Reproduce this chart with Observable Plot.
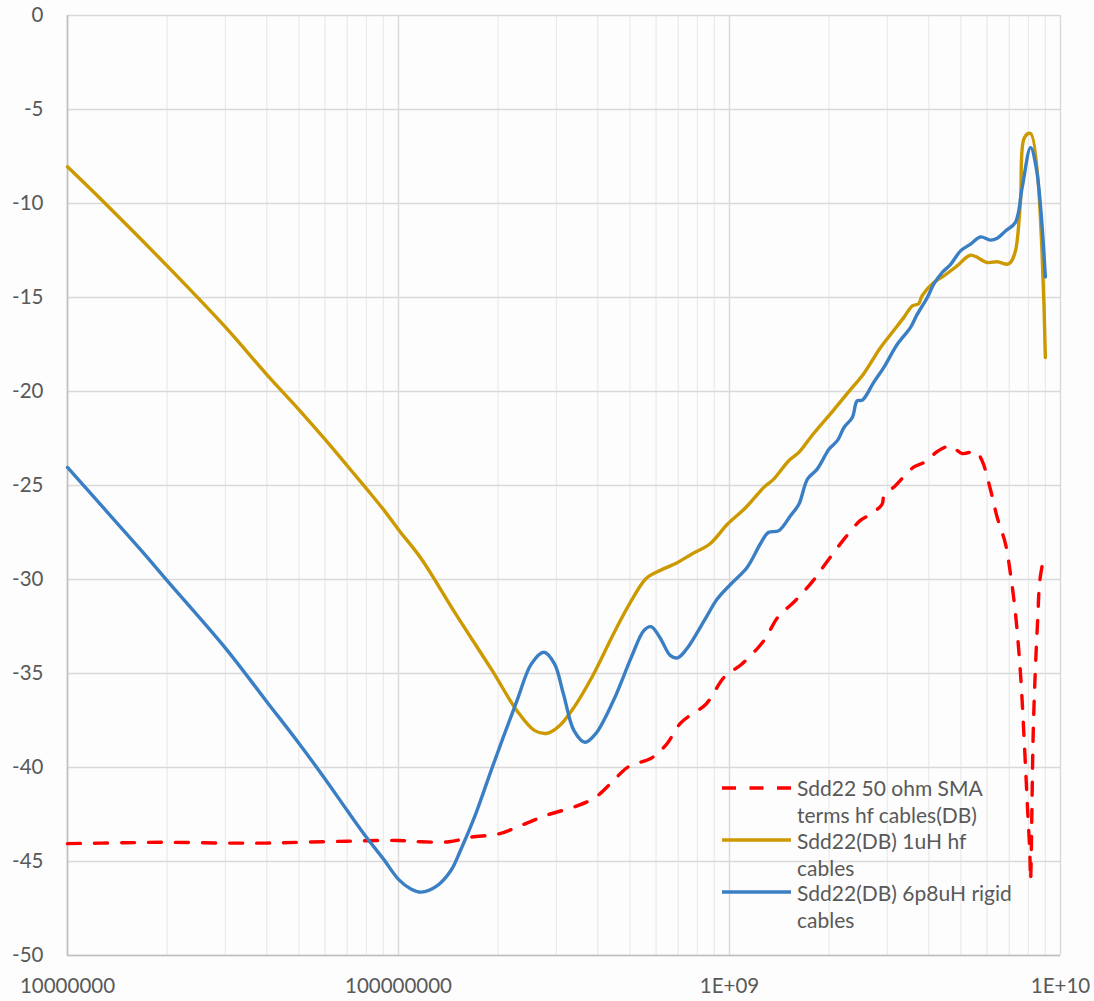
<!DOCTYPE html>
<html><head><meta charset="utf-8">
<script src="https://cdn.jsdelivr.net/npm/d3@7"></script>
<script src="https://cdn.jsdelivr.net/npm/@observablehq/plot@0.6"></script>
<style>
html,body{margin:0;padding:0;background:#fdfdfd;overflow:hidden;}
#wrap{position:relative;width:1094px;height:1001px;font-family:Lato,"Open Sans",sans-serif;}
#wrap svg{display:block;}
.legtext{position:absolute;left:797px;font-size:21px;line-height:27px;color:#595959;white-space:nowrap;}
.legsw{position:absolute;left:722px;width:70px;height:10px;}
</style></head><body><div id="wrap"></div>
<script>
// Series: [frequency (Hz), dB]
const red = [[1e7,-44.05],[1.5e7,-44.0],[2e7,-43.98],[3e7,-44.02],[4e7,-44.02],[5e7,-43.98],[7e7,-43.92],[1e8,-43.88],[1.17e8,-43.95],[1.42e8,-43.95],[1.65e8,-43.71],[2.01e8,-43.53],[2.34e8,-43.09],[2.78e8,-42.56],[3.48e8,-42.03],[3.94e8,-41.58],[4.46e8,-40.7],[4.92e8,-39.99],[5.86e8,-39.46],[6.47e8,-38.74],[7.15e8,-37.6],[8.5e8,-36.62],[9.63e8,-35.2],[1.09e9,-34.49],[1.27e9,-33.25],[1.4e9,-32.01],[1.58e9,-31.13],[1.79e9,-30.06],[1.98e9,-29.0],[2.24e9,-27.76],[2.48e9,-26.87],[2.67e9,-26.52],[2.89e9,-26.0],[2.93e9,-25.55],[3.17e9,-25.01],[3.59e9,-24.04],[3.87e9,-23.77],[4.28e9,-23.15],[4.65e9,-22.9],[5.05e9,-23.3],[5.55e9,-23.2],[5.8e9,-23.7],[6.14e9,-25.2],[6.44e9,-26.7],[6.82e9,-28.1],[7.06e9,-29.7],[7.31e9,-31.8],[7.57e9,-35.0],[7.75e9,-38.2],[7.93e9,-41.76],[8.08e9,-44.6],[8.12e9,-46.0],[8.27e9,-38.2],[8.4e9,-34.7],[8.54e9,-32.0],[8.66e9,-30.06],[8.95e9,-28.6]];
const gold = [[1e7,-8.05],[1.3e7,-10.0],[2e7,-13.32],[3e7,-16.58],[4e7,-19.1],[5e7,-20.96],[6e7,-22.55],[7e7,-23.95],[8e7,-25.17],[9e7,-26.27],[1e8,-27.35],[1.17e8,-28.88],[1.49e8,-31.84],[1.92e8,-34.85],[2.28e8,-36.98],[2.58e8,-38.04],[2.82e8,-38.18],[3.07e8,-37.77],[3.39e8,-36.8],[3.84e8,-35.2],[4.46e8,-32.9],[4.92e8,-31.48],[5.58e8,-29.97],[6.0e8,-29.62],[6.97e8,-29.09],[7.7e8,-28.64],[8.72e8,-28.11],[9.87e8,-27.05],[1.12e9,-26.17],[1.27e9,-25.1],[1.36e9,-24.66],[1.51e9,-23.68],[1.62e9,-23.24],[1.79e9,-22.26],[2.06e9,-21.0],[2.27e9,-20.1],[2.54e9,-19.07],[2.86e9,-17.66],[3.13e9,-16.77],[3.36e9,-16.07],[3.57e9,-15.44],[3.72e9,-15.35],[3.82e9,-14.9],[4.14e9,-14.2],[4.44e9,-13.85],[4.87e9,-13.32],[5.35e9,-12.75],[6.0e9,-13.14],[6.44e9,-13.1],[6.9e9,-13.23],[7.06e9,-13.14],[7.31e9,-12.52],[7.57e9,-9.86],[7.78e9,-6.5],[8.12e9,-6.28],[9e9,-18.19]];
const blue = [[1e7,-24.04],[1.66e7,-28.4],[2e7,-30.06],[3e7,-33.65],[4e7,-36.5],[5e7,-38.71],[6e7,-40.61],[7e7,-42.29],[8e7,-43.71],[9e7,-44.86],[1e8,-45.95],[1.09e8,-46.46],[1.17e8,-46.63],[1.31e8,-46.28],[1.44e8,-45.48],[1.54e8,-44.4],[1.7e8,-42.6],[1.92e8,-39.99],[2.28e8,-36.44],[2.52e8,-34.49],[2.75e8,-33.87],[2.96e8,-34.49],[3.15e8,-36.09],[3.39e8,-38.04],[3.66e8,-38.66],[3.94e8,-38.21],[4.46e8,-36.44],[5.05e8,-34.14],[5.51e8,-32.72],[5.79e8,-32.51],[6.16e8,-33.08],[6.63e8,-34.05],[6.97e8,-34.17],[7.42e8,-33.7],[8.5e8,-32.01],[9.18e8,-31.04],[1.01e9,-30.24],[1.13e9,-29.36],[1.24e9,-28.1],[1.31e9,-27.5],[1.41e9,-27.4],[1.53e9,-26.6],[1.62e9,-26.0],[1.72e9,-24.66],[1.84e9,-24.13],[2.0e9,-23.06],[2.12e9,-22.6],[2.22e9,-21.9],[2.35e9,-21.38],[2.43e9,-20.5],[2.52e9,-20.46],[2.73e9,-19.5],[2.93e9,-18.7],[3.21e9,-17.5],[3.52e9,-16.6],[3.69e9,-15.9],[3.96e9,-15.0],[4.14e9,-14.29],[4.39e9,-13.67],[4.65e9,-13.25],[4.99e9,-12.52],[5.35e9,-12.16],[5.73e9,-11.78],[6.14e9,-11.95],[6.44e9,-11.85],[6.82e9,-11.46],[7.31e9,-11.0],[7.66e9,-9.15],[8.12e9,-7.03],[8.46e9,-8.18],[9e9,-13.9]];

const seriesNames = ["Sdd22 50 ohm SMA terms hf cables(DB)", "Sdd22(DB) 1uH hf cables", "Sdd22(DB) 6p8uH rigid cables"];
const legendLines = [["Sdd22 50 ohm SMA","terms hf cables(DB)"],["Sdd22(DB) 1uH hf","cables"],["Sdd22(DB) 6p8uH rigid","cables"]];
const seriesColors = ["#ff0000", "#cc9900", "#3a7fc4"];

const xTicks = [1e7, 1e8, 1e9, 1e10];
const xTickLabels = ["10000000", "100000000", "1E+09", "1E+10"];
const yTicks = [0, -5, -10, -15, -20, -25, -30, -35, -40, -45, -50];
const minorTicks = [];
for (const dec of [1e7, 1e8, 1e9]) for (let k = 2; k <= 9; k++) minorTicks.push(k * dec);

const toRows = arr => arr.map(([f, db]) => ({f, db}));

const plot = Plot.plot({
  width: 1094, height: 1001,
  marginLeft: 67, marginRight: 34, marginTop: 15, marginBottom: 46,
  style: {background: "transparent", fontFamily: "Lato, 'Open Sans', sans-serif", fontSize: "20px", color: "#595959"},
  x: {type: "log", domain: [1e7, 1e10]},
  y: {domain: [-50, 0]},
  marks: [
    Plot.ruleX(minorTicks, {stroke: "#ebebeb", strokeWidth: 1.3}),
    Plot.ruleX(xTicks, {stroke: "#d9d9d9", strokeWidth: 1.4}),
    Plot.ruleY(yTicks, {stroke: "#d9d9d9", strokeWidth: 1.4}),
    Plot.ruleX([1e7], {stroke: "#bfbfbf", strokeWidth: 1.6}),
    Plot.ruleY([-50], {stroke: "#bfbfbf", strokeWidth: 1.6}),
    Plot.axisX({ticks: xTicks, tickSize: 0, tickPadding: 23, fontSize: 20.5, label: null,
      tickFormat: d => xTickLabels[Math.round(Math.log10(d)) - 7]}),
    Plot.axisY({ticks: yTicks, tickSize: 0, tickPadding: 24, fontSize: 20.5, label: null, tickFormat: d => String(d)}),
    Plot.line(toRows(red), {x: "f", y: "db", stroke: seriesColors[0], strokeWidth: 3.4, strokeDasharray: "13,14", curve: "catmull-rom"}),
    Plot.line(toRows(gold), {x: "f", y: "db", stroke: seriesColors[1], strokeWidth: 3.4, curve: "catmull-rom"}),
    Plot.line(toRows(blue), {x: "f", y: "db", stroke: seriesColors[2], strokeWidth: 3.4, curve: "catmull-rom"})
  ]
});
const wrap = document.getElementById("wrap");
wrap.appendChild(plot);

// legend overlay (inside plot area, lower right)
const legCenters = [787, 840, 892];
const swY = [787.5, 839.5, 892];
legendLines.forEach((lines, i) => {
  const sw = document.createElementNS("http://www.w3.org/2000/svg", "svg");
  sw.setAttribute("class", "legsw");
  sw.style.top = (swY[i] - 5) + "px";
  const ln = document.createElementNS("http://www.w3.org/2000/svg", "line");
  ln.setAttribute("x1", 0); ln.setAttribute("x2", 69); ln.setAttribute("y1", 5); ln.setAttribute("y2", 5);
  ln.setAttribute("stroke", seriesColors[i]);
  ln.setAttribute("stroke-width", 3.5);
  if (i === 0) ln.setAttribute("stroke-dasharray", "14,13.5");
  sw.appendChild(ln);
  wrap.appendChild(sw);
  const t = document.createElement("div");
  t.className = "legtext";
  t.style.top = (legCenters[i] - 13.5) + "px";
  t.title = seriesNames[i];
  t.innerHTML = lines.join("<br>");
  wrap.appendChild(t);
});
</script></body></html>
